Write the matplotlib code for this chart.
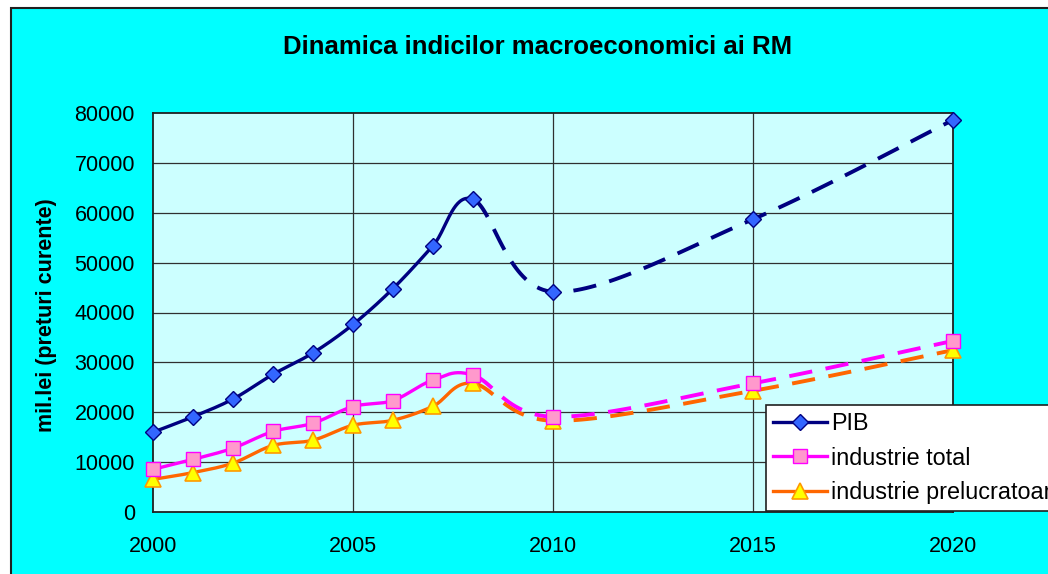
import numpy as np
import matplotlib
matplotlib.use("Agg")
import matplotlib.pyplot as plt
from matplotlib.patches import Rectangle
from matplotlib.lines import Line2D

plt.rcParams['font.family'] = ['Liberation Sans', 'DejaVu Sans']

years = [2000, 2001, 2002, 2003, 2004, 2005, 2006, 2007, 2008, 2010, 2015, 2020]
pib = [16000, 19100, 22650, 27600, 31900, 37600, 44800, 53400, 62700, 44150, 58700, 78600]
ind_total = [8550, 10550, 12800, 16150, 17800, 21150, 22350, 26450, 27450, 19100, 25800, 34300]
ind_prel = [6550, 7900, 9800, 13350, 14400, 17400, 18400, 21200, 25800, 18300, 24300, 32450]
last_actual = 2008

title = "Dinamica indicilor macroeconomici ai RM"
ylabel = "mil.lei (preturi curente)"
labels = ["PIB", "industrie total", "industrie prelucratoare"]
xticks = [2000, 2005, 2010, 2015, 2020]
yticks = list(range(0, 80001, 10000))


def smooth(xs, ys, n=40):
    """Excel-style smoothed line: cubic Bezier through points (tension 1/6)."""
    P = np.column_stack([xs, ys]).astype(float)
    m = len(P)
    segs = []
    for i in range(m - 1):
        p0 = P[i - 1] if i > 0 else P[i]
        p1 = P[i]
        p2 = P[i + 1]
        p3 = P[i + 2] if i + 2 < m else P[i + 1]
        c1 = p1 + (p2 - p0) / 6.0
        c2 = p2 - (p3 - p1) / 6.0
        t = np.linspace(0, 1, n)[:, None]
        b = ((1 - t) ** 3) * p1 + 3 * ((1 - t) ** 2) * t * c1 + 3 * (1 - t) * t ** 2 * c2 + t ** 3 * p2
        segs.append(b)
    return segs


W, H = 1048, 574
fig = plt.figure(figsize=(W / 100, H / 100), dpi=100)
fig.patch.set_facecolor('white')

# chart area
fig.patches.append(Rectangle((11 / W, -0.05), 1.2, 1 - 8 / H + 0.05, transform=fig.transFigure,
                             facecolor='#00FFFF', edgecolor='#202020', linewidth=1.5, zorder=-10))

ax = fig.add_axes([153 / W, 1 - 512 / H, 800 / W, (512 - 113) / H])
ax.set_zorder(1)
ax.set_facecolor('#CCFFFF')
ax.set_xlim(2000, 2020)
ax.set_ylim(0, 80000)
ax.set_xticks(xticks)
ax.set_yticks(yticks)
ax.set_xticklabels([str(x) for x in xticks], fontsize=15.5)
ax.set_yticklabels([str(y) for y in yticks], fontsize=15.5)
ax.tick_params(axis='x', length=0, pad=17)
ax.tick_params(axis='y', length=0, pad=13)
for y in yticks[1:-1]:
    ax.axhline(y, color='#303030', lw=0.9, zorder=1)
for x in xticks[1:-1]:
    ax.axvline(x, color='#303030', lw=0.9, zorder=1)
for s in ax.spines.values():
    s.set_color('#202020')
    s.set_linewidth(1.3)

styles = [
    dict(color='#000080', marker='D', ms=8, mfc='#3366FF', mec='#000080', mew=1.0),
    dict(color='#FF00FF', marker='s', ms=10.5, mfc='#FF99CC', mec='#FF00FF', mew=1.0),
    dict(color='#FF6600', marker='^', ms=11.5, mfc='#FFFF00', mec='#FF9900', mew=1.2),
]
series = [pib, ind_total, ind_prel]
handles = []
for k, (vals, st) in enumerate(zip(series, styles)):
    segs = smooth(years, vals)
    solid = [s for s, x0 in zip(segs, years[:-1]) if x0 < last_actual]
    dashed = [s for s, x0 in zip(segs, years[:-1]) if x0 >= last_actual]
    sp = np.vstack(solid)
    dp = np.vstack(dashed)
    z = 5 - k
    ax.plot(sp[:, 0], sp[:, 1], color=st['color'], lw=2.4, solid_capstyle='round', zorder=z)
    ax.plot(dp[:, 0], dp[:, 1], color=st['color'], lw=2.8, linestyle=(0, (6, 3.5)), zorder=z)
    ax.plot(years, vals, linestyle='none', marker=st['marker'], ms=st['ms'], mfc=st['mfc'],
            mec=st['mec'], mew=st['mew'], zorder=z + 5, clip_on=False)
    handles.append(Line2D([], [], color=st['color'], lw=2.4, marker=st['marker'], ms=st['ms'],
                          mfc=st['mfc'], mec=st['mec'], mew=st['mew']))

leg = fig.legend(handles, labels, loc='upper left', bbox_to_anchor=(766 / W, 1 - 405 / H),
                 bbox_transform=fig.transFigure, fontsize=16.8, frameon=True, fancybox=False,
                 handlelength=2.3, handletextpad=0.2, borderpad=0.3, labelspacing=0.5,
                 borderaxespad=0)
leg.get_frame().set_facecolor('white')
leg.get_frame().set_edgecolor('#202020')
leg.get_frame().set_linewidth(1.2)
leg.get_frame().set_alpha(1)
leg.set_zorder(20)

fig.text(538 / W, 1 - 47 / H, title, ha='center', va='center', fontsize=18.5, fontweight='bold')
fig.text(47 / W, 1 - 315 / H, ylabel, ha='center', va='center', rotation=90, fontsize=15.5,
         fontweight='bold')

fig.savefig('out.png', dpi=100)
